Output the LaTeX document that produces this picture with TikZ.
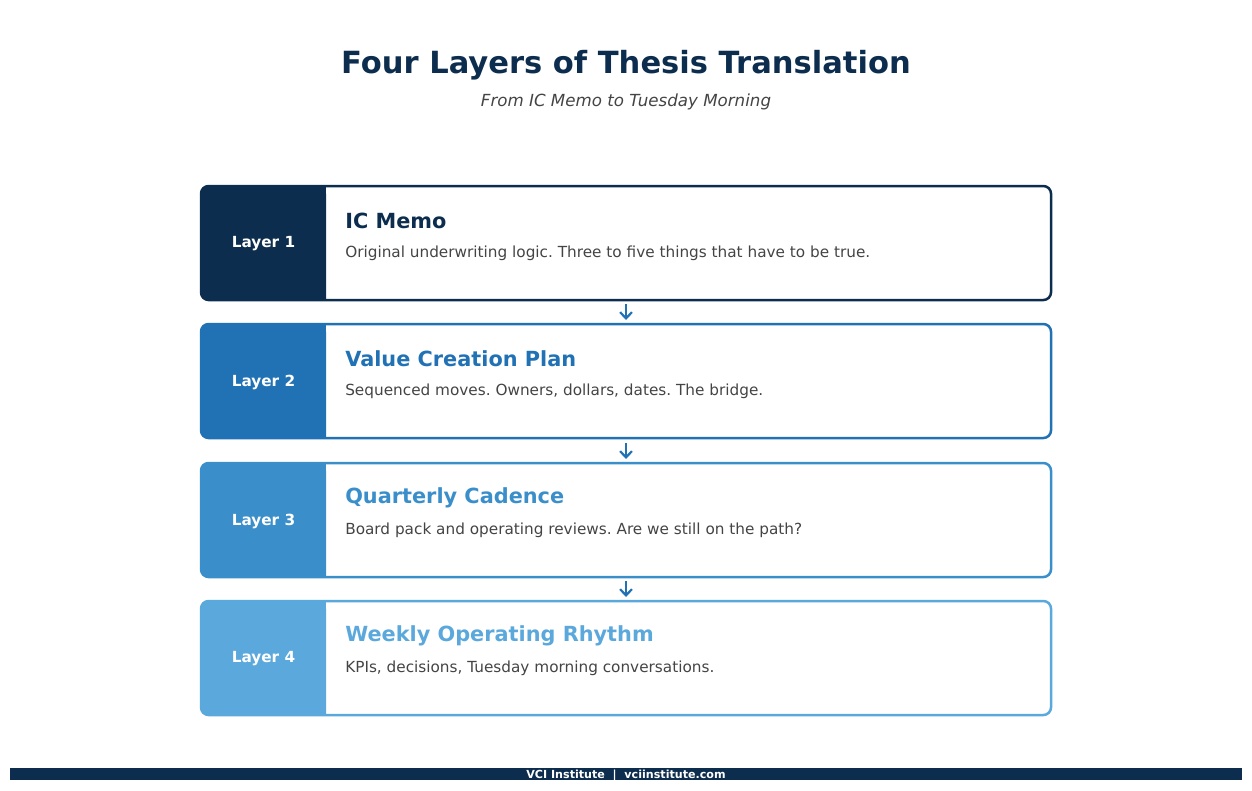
\documentclass[tikz,border=0pt]{standalone}
\usepackage{fontspec}
\setmainfont{DejaVu Sans}
\usetikzlibrary{arrows.meta}
\frenchspacing
\definecolor{c1}{HTML}{0C2D4E}
\definecolor{c2}{HTML}{2171B5}
\definecolor{c3}{HTML}{3A8FCB}
\definecolor{c4}{HTML}{5BA8DC}
\definecolor{txt}{HTML}{444444}
\definecolor{navy}{HTML}{0C2D4E}
\begin{document}
\begin{tikzpicture}[x=0.72pt,y=-0.72pt,
  layerbox/.style={draw=#1,line width=1.8pt,rounded corners=5.5pt},
  layertag/.style={font=\fontsize{11}{13}\selectfont\bfseries,text=white},
  heading/.style={font=\fontsize{15}{18}\selectfont\bfseries,anchor=west,inner sep=0pt},
  bodytext/.style={font=\fontsize{11}{13}\selectfont,text=txt,anchor=west,inner sep=0pt},
  flow/.style={-{Straight Barb[length=4.5pt,width=8.5pt]},draw=c2,line width=1.6pt}]
\useasboundingbox (0,0) rectangle (1252,790);
\node[font=\fontsize{22}{26}\selectfont\bfseries,text=navy] (title) at (626,65) {Four Layers of Thesis Translation};
\node[font=\fontsize{12}{14}\selectfont\itshape,text=txt] (subtitle) at (626,102) {From IC Memo to Tuesday Morning};
\foreach \i/\top/\col/\head/\body in {
  1/186/c1/IC Memo/Original underwriting logic. Three to five things that have to be true.,
  2/324/c2/Value Creation Plan/{Sequenced moves. Owners, dollars, dates. The bridge.},
  3/463/c3/Quarterly Cadence/Board pack and operating reviews. Are we still on the path?,
  4/601/c4/Weekly Operating Rhythm/{KPIs, decisions, Tuesday morning conversations.}}{
  \fill[\col,rounded corners=5.5pt] (201,\top) -- (326,\top) -- (326,\top+114) [sharp corners] -- (326,\top+114) [rounded corners=5.5pt] -- (201,\top+114) -- cycle;
  \fill[\col] (250,\top) rectangle (326,\top+114);
  \draw[layerbox=\col] (201,\top) rectangle (1051,\top+114);
  \coordinate (box\i top) at (626,\top);
  \coordinate (box\i bot) at (626,\top+114);
  \node[layertag] (tag\i) at (263.5,\top+58) {Layer \i};
  \node[heading,text=\col] (head\i) at (345,\top+34.5) {\head};
  \node[bodytext] (body\i) at (345,\top+67.5) {\body};
}
\coordinate (a1s) at (626,304); \coordinate (a1e) at (626,320);
\coordinate (a2s) at (626,443); \coordinate (a2e) at (626,459);
\coordinate (a3s) at (626,581); \coordinate (a3e) at (626,597);
\draw[flow] (a1s) -- (a1e);
\draw[flow] (a2s) -- (a2e);
\draw[flow] (a3s) -- (a3e);
\fill[navy] (10,768) rectangle (1242,780);
\node[font=\fontsize{8}{9}\selectfont\bfseries,text=white,inner sep=0pt] (footer) at (626,775.5) {VCI Institute \ | \ vciinstitute.com};
\end{tikzpicture}
\end{document}
